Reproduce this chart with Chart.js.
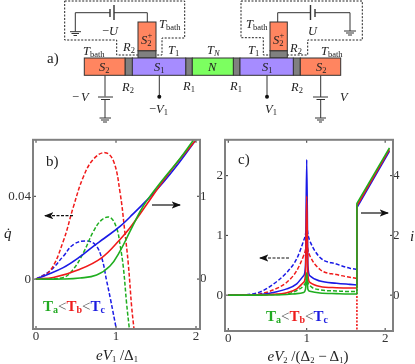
<!DOCTYPE html>
<html>
<head>
<meta charset="UTF-8">
<title>Heat current and charge current</title>
<script src="https://cdn.jsdelivr.net/npm/chart.js"></script>
<style>
    html, body { margin: 0; padding: 0; background: #fff; }
    #page { position: relative; width: 415px; height: 364px; overflow: hidden; }
    canvas { position: absolute; }
    #chartB { left: 0; top: 130px; }
    #chartC { left: 205px; top: 130px; }
    #over { position: absolute; left: 0; top: 0; }
    #over text { font-family: "Liberation Serif", serif; font-size: 12.5px; fill: #222; }
    #over .v { font-style: italic; }
    #over .sm { font-size: 8.5px; }
    #over .lab { font-size: 15px; }
    #over .wire { stroke: #333; stroke-width: 1; fill: none; }
    #over .box { stroke: #222; stroke-width: 1; fill: none; stroke-dasharray: 2 1.5; }
    #over .blk { stroke: #333; stroke-width: 1; }
    #over .leg { font-weight: bold; font-size: 15px; }
</style>
</head>
<body>
<div id="page">
    <canvas id="chartB" width="225" height="234"></canvas>
    <canvas id="chartC" width="210" height="234"></canvas>
    <svg id="over" width="415" height="364" xmlns="http://www.w3.org/2000/svg">
        <defs>
            <marker id="head" markerWidth="8" markerHeight="6" refX="7" refY="3" orient="auto-start-reverse">
                <path d="M0 0 L8 3 L0 6 L2 3 Z" fill="#111"></path>
            </marker>
        </defs>

        <!-- a) circuit -->
        <path class="box" d="M64.7 1 H184.7 V38 H162 V55 H116.7 V40 H64.7 Z"></path>
        <path class="box" d="M241 1 H362.3 V40 H307.7 V55 H263.3 V37.7 H241 Z"></path>

        <path class="wire" d="M75.3 31.7 V12.7 H110 M114 12.7 H147.3 V22"></path>
        <path class="wire" style="stroke-width:1.4" d="M110 9 V17 M114 5 V20"></path>
        <path class="wire" d="M70 31.7 H81 M71.5 33.5 H79 M73.5 35.5 H77"></path>
        <path class="wire" d="M277.7 22 V12.7 H310.5 M315 12.7 H350 V31"></path>
        <path class="wire" style="stroke-width:1.4" d="M310.5 5 V20 M315 9 V17"></path>
        <path class="wire" d="M344 31 H356 M346 33 H354 M348 35 H352"></path>

        <path class="wire" d="M105 75.3 V96.5 M105 99.5 V118 M98 97 H113 M101 99.5 H110"></path>
        <path class="wire" d="M99.5 118 H111 M101 120 H109 M103 122 H107"></path>
        <path class="wire" d="M320.7 75.3 V97 M320.7 99.5 V118 M313 97 H328 M316.5 99.5 H325"></path>
        <path class="wire" d="M315 118 H326 M317 120 H324 M319 122 H322"></path>
        <path class="wire" d="M159.3 75.3 V96.5"></path>
        <path class="wire" d="M267 75.3 V96.5"></path>
        <circle cx="159.3" cy="96.7" r="2" fill="#111"></circle>
        <circle cx="267" cy="96.7" r="2" fill="#111"></circle>

        <rect class="blk" x="125" y="58" width="7.5" height="17.3" fill="#808080"></rect>
        <rect class="blk" x="185.7" y="58" width="6.6" height="17.3" fill="#808080"></rect>
        <rect class="blk" x="233.3" y="58" width="6.7" height="17.3" fill="#808080"></rect>
        <rect class="blk" x="293.3" y="58" width="7" height="17.3" fill="#808080"></rect>
        <rect class="blk" x="138" y="50.7" width="18" height="7.3" fill="#808080"></rect>
        <rect class="blk" x="270" y="50.7" width="17.3" height="7.3" fill="#808080"></rect>
        <rect class="blk" x="84.3" y="58" width="40.7" height="17.3" fill="#ff8560"></rect>
        <rect class="blk" x="132.3" y="58" width="53.4" height="17.3" fill="#a68cff"></rect>
        <rect class="blk" x="192.3" y="58" width="41" height="17.3" fill="#7cff60"></rect>
        <rect class="blk" x="240" y="58" width="53.3" height="17.3" fill="#a68cff"></rect>
        <rect class="blk" x="300.3" y="58" width="40.4" height="17.3" fill="#ff8560"></rect>
        <rect class="blk" x="138" y="22" width="18" height="28.7" fill="#ff8560"></rect>
        <rect class="blk" x="270" y="22" width="17.3" height="28.7" fill="#ff8560"></rect>

        <text x="47" y="63" class="lab">a)</text>
        <text x="83" y="55" class="v">T<tspan class="sm" dy="2" font-style="normal">bath</tspan></text>
        <text x="159" y="28" class="v">T<tspan class="sm" dy="2" font-style="normal">bath</tspan></text>
        <text x="246" y="28" class="v">T<tspan class="sm" dy="2" font-style="normal">bath</tspan></text>
        <text x="321" y="55" class="v">T<tspan class="sm" dy="2" font-style="normal">bath</tspan></text>
        <text x="102" y="35"><tspan>−</tspan><tspan class="v">U</tspan></text>
        <text x="308" y="35" class="v">U</text>
        <text x="123" y="51" class="v">R<tspan class="sm" dy="2" font-style="normal">2</tspan></text>
        <text x="290" y="52" class="v">R<tspan class="sm" dy="2" font-style="normal">2</tspan></text>
        <text x="122" y="91" class="v">R<tspan class="sm" dy="2" font-style="normal">2</tspan></text>
        <text x="291" y="91" class="v">R<tspan class="sm" dy="2" font-style="normal">2</tspan></text>
        <text x="183" y="90" class="v">R<tspan class="sm" dy="2" font-style="normal">1</tspan></text>
        <text x="230" y="90" class="v">R<tspan class="sm" dy="2" font-style="normal">1</tspan></text>
        <text x="168" y="54" class="v">T<tspan class="sm" dy="2" font-style="normal">1</tspan></text>
        <text x="248" y="54" class="v">T<tspan class="sm" dy="2" font-style="normal">1</tspan></text>
        <text x="207" y="54" class="v">T<tspan class="sm" dy="2">N</tspan></text>
        <text x="99" y="71" class="v">S<tspan class="sm" dy="2" font-style="normal">2</tspan></text>
        <text x="316" y="71" class="v">S<tspan class="sm" dy="2" font-style="normal">2</tspan></text>
        <text x="154" y="71" class="v">S<tspan class="sm" dy="2" font-style="normal">1</tspan></text>
        <text x="262" y="71" class="v">S<tspan class="sm" dy="2" font-style="normal">1</tspan></text>
        <text x="208" y="71" class="v">N</text>
        <text x="141" y="44" class="v">S<tspan class="sm" dy="2" font-style="normal">2</tspan><tspan class="sm" dx="-4" dy="-8" font-style="normal">+</tspan></text>
        <text x="273" y="44" class="v">S<tspan class="sm" dy="2" font-style="normal">2</tspan><tspan class="sm" dx="-4" dy="-8" font-style="normal">+</tspan></text>
        <text x="72" y="101"><tspan>−</tspan><tspan class="v" dx="2">V</tspan></text>
        <text x="340" y="101" class="v">V</text>
        <text x="149" y="113"><tspan>−</tspan><tspan class="v">V</tspan><tspan class="sm" dy="2">1</tspan></text>
        <text x="265" y="113" class="v">V<tspan class="sm" dy="2" font-style="normal">1</tspan></text>

        <!-- b) labels -->
        <text x="46" y="166" class="lab">b)</text>
        <text x="4" y="238" class="v lab">q̇</text>
        <line x1="73" y1="215.7" x2="45" y2="215.7" stroke="#111" stroke-width="1.2" stroke-dasharray="3 1.5" marker-end="url(#head)"></line>
        <line x1="152" y1="205" x2="180" y2="205" stroke="#111" stroke-width="1.2" marker-end="url(#head)"></line>
        <text x="43" y="311" class="leg"><tspan style="fill:#22aa22">T<tspan font-size="10" dy="2">a</tspan></tspan><tspan dy="-2" style="fill:#555;font-weight:normal">&lt;</tspan><tspan style="fill:#ee1c1c">T<tspan font-size="10" dy="2">b</tspan></tspan><tspan dy="-2" style="fill:#555;font-weight:normal">&lt;</tspan><tspan style="fill:#1c1ce0">T<tspan font-size="10" dy="2">c</tspan></tspan></text>
        <text x="117" y="360" class="v lab" text-anchor="middle">eV<tspan class="sm" dy="2" font-style="normal">1</tspan><tspan dy="-2" font-style="normal"> /Δ</tspan><tspan class="sm" dy="2" font-style="normal">1</tspan></text>

        <!-- c) labels -->
        <text x="238" y="164" class="lab">c)</text>
        <text x="410" y="241" class="v lab">i</text>
        <line x1="289" y1="258" x2="260" y2="258" stroke="#111" stroke-width="1.2" stroke-dasharray="3 1.5" marker-end="url(#head)"></line>
        <line x1="361" y1="213" x2="388" y2="213" stroke="#111" stroke-width="1.2" marker-end="url(#head)"></line>
        <text x="266" y="321" class="leg"><tspan style="fill:#22aa22">T<tspan font-size="10" dy="2">a</tspan></tspan><tspan dy="-2" style="fill:#555;font-weight:normal">&lt;</tspan><tspan style="fill:#ee1c1c">T<tspan font-size="10" dy="2">b</tspan></tspan><tspan dy="-2" style="fill:#555;font-weight:normal">&lt;</tspan><tspan style="fill:#1c1ce0">T<tspan font-size="10" dy="2">c</tspan></tspan></text>
        <text x="308" y="361" class="v lab" text-anchor="middle">eV<tspan class="sm" dy="2" font-style="normal">2</tspan><tspan dy="-2" font-style="normal"> /(Δ</tspan><tspan class="sm" dy="2" font-style="normal">2</tspan><tspan dy="-2" font-style="normal"> − Δ</tspan><tspan class="sm" dy="2" font-style="normal">1</tspan><tspan dy="-2" font-style="normal">)</tspan></text>
    </svg>
</div>

<script>
    const green = '#1fae1f';
    const red = '#f01a1a';
    const blue = '#1a1ae6';

    // panel b, cooling power (left axis)
    const bQRedX = [0, 0.175, 0.34, 0.467, 0.59, 0.717, 0.8625, 0.967, 1.05, 1.11, 1.154, 1.196, 1.225];
    const bQRedY = [0, 0.004, 0.0182, 0.0349, 0.0492, 0.0579, 0.0611, 0.0572, 0.042, 0.023, 0.0072, -0.0135, -0.0241];
    const bQGreenX = [0, 0.342, 0.467, 0.592, 0.717, 0.821, 0.925, 1.008, 1.05, 1.092, 1.133, 1.167];
    const bQGreenY = [0, 0.0008, 0.0048, 0.0127, 0.023, 0.0286, 0.0298, 0.0246, 0.0167, 0.0056, -0.0119, -0.0241];
    const bQBlueX = [0, 0.175, 0.342, 0.467, 0.62, 0.7375, 0.821, 0.883, 0.93, 1.004];
    const bQBlueY = [0, 0.004, 0.0111, 0.0167, 0.0184, 0.0167, 0.0103, -0.0008, -0.0095, -0.0241];

    // panel b, charge current (right axis)
    const bIBlueX = [0, 0.13, 0.34, 0.55, 0.716, 0.85, 1.05, 1.175, 1.383, 1.592, 1.8, 1.988];
    const bIBlueY = [0, 0.05, 0.138, 0.27, 0.396, 0.49, 0.636, 0.75, 0.95, 1.17, 1.42, 1.667];
    const bIRedX = [0, 0.217, 0.55, 0.82, 1.05, 1.175, 1.383, 1.592, 1.8, 1.988];
    const bIRedY = [0, 0.02, 0.12, 0.257, 0.478, 0.62, 0.9, 1.19, 1.45, 1.667];
    const bIGreenX = [0, 0.342, 0.55, 0.758, 0.925, 1.05, 1.175, 1.3, 1.383, 1.592, 1.8, 1.967];
    const bIGreenY = [0, 0, 0.012, 0.05, 0.158, 0.337, 0.575, 0.813, 0.944, 1.21, 1.456, 1.677];

    // panel c, both families share these voltages below the gap
    const cX = [0, 0.2, 0.4, 0.53, 0.746, 0.873, 0.96, 0.985, 1, 1.015, 1.04, 1.17, 1.38, 1.55, 1.64];
    const cQBlue = [0, 0.005, 0.05, 0.144, 0.38, 0.61, 0.91, 1.02, 1.15, 1.02, 0.91, 0.63, 0.52, 0.45, 0.43];
    const cQRed = [0, 0.002, 0.02, 0.066, 0.216, 0.41, 0.66, 0.76, 0.9, 0.76, 0.66, 0.43, 0.344, 0.3, 0.28];
    const cQGreen = [0, 0, 0.003, 0.01, 0.02, 0.078, 0.16, 0.22, 0.35, 0.22, 0.16, 0.09, 0.07, 0.06, 0.06];
    const cIBlue = [0, 0.005, 0.02, 0.066, 0.21, 0.38, 0.65, 1.0, 4.54, 1.0, 0.65, 0.47, 0.4, 0.36, 0.34];
    const cIRed = [0, 0, 0.005, 0.02, 0.08, 0.21, 0.43, 0.7, 3.32, 0.7, 0.43, 0.29, 0.25, 0.24, 0.24];
    const cIGreen = [0, 0, 0, 0.005, 0.02, 0.05, 0.09, 0.2, 0.75, 0.2, 0.13, 0.07, 0.05, 0.04, 0.04];

    // above the gap
    const cJumpX = [1.64, 1.64, 2.055];
    const cIBlueJump = [0.34, 2.93, 4.82];
    const cIRedJump = [0.24, 2.99, 4.88];
    const cIGreenJump = [0.04, 3.07, 4.93];
    const cDropX = [1.64, 1.64];
    const cDropY = [0.28, -0.65];

    const bXTicks = [0, 1, 2];
    const bLeftTicks = [0, 0.04];
    const bRightTicks = [0, 1];
    const cXTicks = [0, 1, 2];
    const cLeftTicks = [0, 1, 2];
    const cRightTicks = [0, 2, 4];

    const pts = (xs, ys) => xs.map((x, i) => ({ x: x, y: ys[i] }));

    // tension 0.4 keeps the smooth humps of b) round, monotone keeps the spike of c) sharp
    function solid(color, xs, ys, axis, smooth) {
        const line = { data: pts(xs, ys), borderColor: color, borderWidth: 1.6, pointRadius: 0, yAxisID: axis };
        if (smooth) line.tension = 0.4; else line.cubicInterpolationMode = 'monotone';
        return line;
    }
    function dashed(color, xs, ys, smooth) {
        const line = { data: pts(xs, ys), borderColor: color, borderWidth: 1.5, borderDash: [4, 2], pointRadius: 0, yAxisID: 'y' };
        if (smooth) line.tension = 0.4; else line.cubicInterpolationMode = 'monotone';
        return line;
    }
    function straight(color, xs, ys, axis, dash) {
        return { data: pts(xs, ys), borderColor: color, borderWidth: 1.6, borderDash: dash || [], pointRadius: 0, tension: 0, yAxisID: axis };
    }

    // frame and inward ticks
    const framePlugin = {
        id: 'frame',
        afterDatasetsDraw(chart) {
            const ctx = chart.ctx;
            const a = chart.chartArea;
            ctx.save();
            ctx.strokeStyle = '#333';
            ctx.lineWidth = 1;
            ctx.beginPath();
            chart.scales.x.ticks.forEach(t => {
                const px = chart.scales.x.getPixelForValue(t.value);
                ctx.moveTo(px, a.bottom); ctx.lineTo(px, a.bottom - 3);
                ctx.moveTo(px, a.top); ctx.lineTo(px, a.top + 3);
            });
            chart.scales.y.ticks.forEach(t => {
                const py = chart.scales.y.getPixelForValue(t.value);
                ctx.moveTo(a.left, py); ctx.lineTo(a.left + 3, py);
            });
            chart.scales.y1.ticks.forEach(t => {
                const py = chart.scales.y1.getPixelForValue(t.value);
                ctx.moveTo(a.right, py); ctx.lineTo(a.right - 3, py);
            });
            ctx.stroke();
            ctx.strokeStyle = '#808080';
            ctx.lineWidth = 2;
            ctx.strokeRect(a.left, a.top, a.right - a.left, a.bottom - a.top);
            ctx.restore();
        }
    };

    function axis(position, min, max, ticks, size) {
        const horizontal = position === 'bottom';
        return {
            type: 'linear',
            position: position,
            min: min,
            max: max,
            border: { display: false },
            grid: { display: false, drawTicks: false },
            ticks: {
                color: '#333',
                padding: position === 'left' ? 2 : 0,
                font: { family: 'Liberation Serif', size: 13 },
                callback: v => String(v)
            },
            afterBuildTicks(scale) { scale.ticks = ticks.map(v => ({ value: v })); },
            afterFit(scale) {
                if (horizontal) scale.height = size; else scale.width = size;
            }
        };
    }

    function makeChart(id, datasets, top, scales) {
        return new Chart(document.getElementById(id), {
            type: 'line',
            data: { datasets: datasets },
            options: {
                responsive: false,
                animation: false,
                devicePixelRatio: 1,
                layout: { padding: { top: top } },
                plugins: { legend: { display: false }, tooltip: { enabled: false } },
                scales: scales
            },
            plugins: [framePlugin]
        });
    }

    makeChart('chartB', [
        solid(green, bIGreenX, bIGreenY, 'y1', true),
        solid(red, bIRedX, bIRedY, 'y1', true),
        solid(blue, bIBlueX, bIBlueY, 'y1', true),
        dashed(green, bQGreenX, bQGreenY, true),
        dashed(red, bQRedX, bQRedY, true),
        dashed(blue, bQBlueX, bQBlueY, true)
    ], 7, {
        x: axis('bottom', -0.0375, 2.05, bXTicks, 35),
        y: axis('left', -0.0241, 0.0673, bLeftTicks, 33),
        y1: axis('right', -0.603, 1.682, bRightTicks, 25)
    });

    makeChart('chartC', [
        straight(green, cJumpX, cIGreenJump, 'y1'),
        straight(red, cJumpX, cIRedJump, 'y1'),
        straight(blue, cJumpX, cIBlueJump, 'y1'),
        solid(green, cX, cIGreen, 'y1'),
        solid(red, cX, cIRed, 'y1'),
        solid(blue, cX, cIBlue, 'y1'),
        dashed(green, cX, cQGreen),
        dashed(red, cX, cQRed),
        dashed(blue, cX, cQBlue),
        straight(red, cDropX, cDropY, 'y', [2, 1.5])
    ], 8, {
        x: axis('bottom', -0.0415, 2.1, cXTicks, 33),
        y: axis('left', -0.6, 2.6, cLeftTicks, 20),
        y1: axis('right', -1.2, 5.2, cRightTicks, 22)
    });
</script>
</body>
</html>
